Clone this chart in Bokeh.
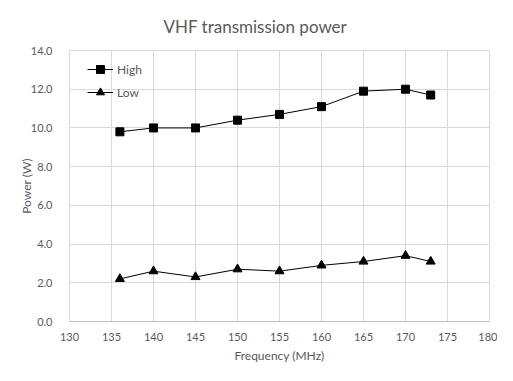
from bokeh.plotting import figure
from bokeh.embed import file_html
from bokeh.resources import INLINE
from bokeh.models import SingleIntervalTicker, Legend, LegendItem, PrintfTickFormatter, Range1d

freq = [136, 140, 145, 150, 155, 160, 165, 170, 173]
high = [9.8, 10.0, 10.0, 10.4, 10.7, 11.1, 11.9, 12.0, 11.7]
low = [2.2, 2.6, 2.3, 2.7, 2.6, 2.9, 3.1, 3.4, 3.1]

FONT = "Lato"
GRAY = "#595959"
GRID = "#d9d9d9"

p = figure(width=497, height=365, output_backend="svg", toolbar_location=None,
           x_range=Range1d(130, 180), y_range=Range1d(0, 14),
           min_border_left=69, min_border_right=8, min_border_top=50, min_border_bottom=44)

p.title.text = "VHF transmission power"
p.title.align = "left"
p.title.offset = 94
p.title.text_font = FONT
p.title.text_font_size = "17px"
p.title.text_font_style = "normal"
p.title.text_color = GRAY
p.title.standoff = 27

p.xaxis.ticker = SingleIntervalTicker(interval=5)
p.yaxis.ticker = SingleIntervalTicker(interval=2)
p.yaxis.formatter = PrintfTickFormatter(format="%.1f")
p.xaxis.axis_label = "Frequency (MHz)"
p.yaxis.axis_label = "Power (W)"
for ax in (p.xaxis, p.yaxis):
    ax.major_tick_line_color = None
    ax.minor_tick_line_color = None
    ax.major_label_text_font = FONT
    ax.major_label_text_font_size = "11px"
    ax.major_label_text_color = GRAY
    ax.axis_label_text_font = FONT
    ax.axis_label_text_font_size = "12px"
    ax.axis_label_text_font_style = "normal"
    ax.axis_label_text_color = GRAY
p.yaxis.axis_line_color = GRID
p.xaxis.axis_line_color = "#bfbfbf"
p.yaxis.major_label_standoff = 11
p.xaxis.major_label_standoff = 5
p.yaxis.axis_label_standoff = -6
p.xaxis.axis_label_standoff = 4

p.xgrid.grid_line_color = GRID
p.ygrid.grid_line_color = GRID
p.outline_line_color = GRID
p.background_fill_color = "white"
p.border_fill_color = "white"

lh = p.line(freq, high, line_color="black", line_width=1)
mh = p.scatter(freq, high, marker="square", size=8, fill_color="black", line_color="black")
ll = p.line(freq, low, line_color="black", line_width=1)
ml = p.scatter(freq, low, marker="triangle", size=9, fill_color="black", line_color="black")

legend = Legend(items=[LegendItem(label="High", renderers=[lh, mh]),
                       LegendItem(label="Low", renderers=[ll, ml])],
                location=(18, 219))
legend.background_fill_alpha = 0
legend.border_line_color = None
legend.label_text_font = FONT
legend.label_text_font_size = "12px"
legend.label_text_color = GRAY
legend.glyph_width = 26
legend.glyph_height = 20
legend.spacing = 3
legend.padding = 0
legend.margin = 0
legend.label_standoff = 4
p.add_layout(legend)

open("out.html", "w").write(file_html(p, INLINE))
